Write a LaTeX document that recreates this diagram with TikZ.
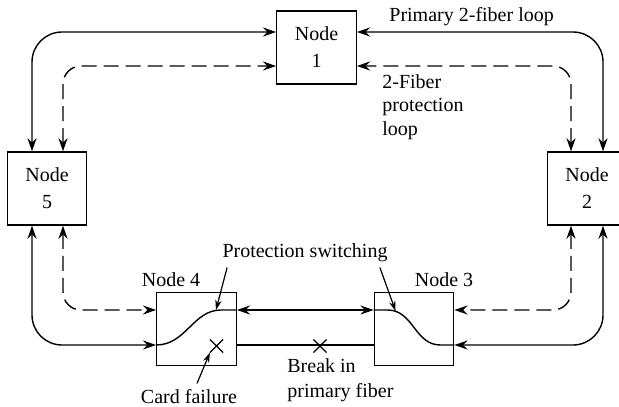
\documentclass[tikz,border=0pt]{standalone}
\usepackage{fontspec}
\setmainfont{Liberation Serif}
\usetikzlibrary{arrows.meta, positioning, calc, shapes.misc}

\tikzset{
  >={Stealth[length=6.5pt, width=4.5pt]},
  fibernode/.style={draw, line width=0.7pt, minimum width=39.75pt, minimum height=36.5pt, inner sep=0pt, align=center, font=\fontsize{10}{13.5}\selectfont},
  primary/.style={line width=0.7pt, rounded corners=15pt},
  protect/.style={line width=0.7pt, dash pattern=on 7.5pt off 3.5pt, rounded corners=9pt},
  switchpath/.style={line width=0.7pt, sharp corners},
  pointer/.style={-{Stealth[length=5pt, width=3.2pt]}, line width=0.6pt},
  failmark/.style={cross out, draw, line width=0.6pt, minimum size=6pt, inner sep=0pt},
  caption/.style={font=\fontsize{10}{12}\selectfont, inner sep=1pt}
}

\begin{document}
\begin{tikzpicture}[x=0.5pt, y=-0.5pt]
  \useasboundingbox (0,0) rectangle (619,406);

  \node[fibernode] (n1) at (316.5,47.5) {Node\\1};
  \node[fibernode] (n5) at (47,188.5) {Node\\5};
  \node[fibernode] (n2) at (587,188.5) {Node\\2};
  \node[fibernode] (n4) at (196.5,329) {};
  \node[fibernode] (n3) at (414,329) {};

  \coordinate (topS) at (0,32);
  \coordinate (topD) at (0,66);
  \coordinate (leftS) at (32,0);
  \coordinate (leftD) at (63,0);
  \coordinate (rightS) at (603,0);
  \coordinate (rightD) at (571,0);
  \coordinate (botU) at (0,310);
  \coordinate (botL) at (0,345);

  \draw[primary, <->] (n5.north -| leftS) |- (n1.west |- topS);
  \draw[protect, <->] (n5.north -| leftD) |- (n1.west |- topD);
  \draw[primary, <->] (n2.north -| rightS) |- (n1.east |- topS);
  \draw[protect, <->] (n2.north -| rightD) |- (n1.east |- topD);
  \draw[primary, <->] (n5.south -| leftS) |- (n4.west |- botL);
  \draw[protect, <->] (n5.south -| leftD) |- (n4.west |- botU);
  \draw[primary, <->] (n2.south -| rightS) |- (n3.east |- botL);
  \draw[protect, <->] (n2.south -| rightD) |- (n3.east |- botU);
  \draw[primary, <->] (n4.east |- botU) -- (n3.west |- botU);
  \draw[primary] (n4.east |- botL) -- (n3.west |- botL);

  \draw[switchpath] (n4.west |- botL) .. controls +(30,0) and +(-28,0) .. ($(n4.east |- botU)+(-16,0)$) -- (n4.east |- botU);
  \draw[switchpath] (n3.west |- botU) -- ($(n3.west |- botU)+(14,0)$) .. controls +(26,0) and +(-26,0) .. ($(n3.east |- botL)+(-14,0)$) -- (n3.east |- botL);

  \node[failmark] (fail) at (216.5,346) {};
  \node[failmark] (brk) at (320,346) {};

  \node[caption, anchor=west] (prim) at (387,17) {Primary 2-fiber loop};
  \node[caption, anchor=west, align=left, font=\fontsize{10}{11.75}\selectfont] (prot) at (380,107) {2-Fiber\\protection\\loop};
  \node[caption] (l4) at (171,280) {Node 4};
  \node[caption] (l3) at (444,280) {Node 3};
  \node[caption] (ps) at (305,253) {Protection switching};
  \node[caption] (cf) at (189,397) {Card failure};
  \node[caption, anchor=west, align=left, font=\fontsize{10}{12.5}\selectfont] (bk) at (285,380) {Break in\\primary fiber};

  \coordinate (sw4) at ($(n4.east |- botU)+(-21,0)$);
  \coordinate (sw3) at ($(n3.west |- botU)+(22,1)$);
  \draw[pointer] ($(ps.south west)+(7,3)$) -- (sw4);
  \draw[pointer] ($(ps.south east)+(-10,3)$) -- (sw3);
  \draw[pointer] ($(cf.north)+(8,-4)$) -- (fail.south west);
\end{tikzpicture}
\end{document}
